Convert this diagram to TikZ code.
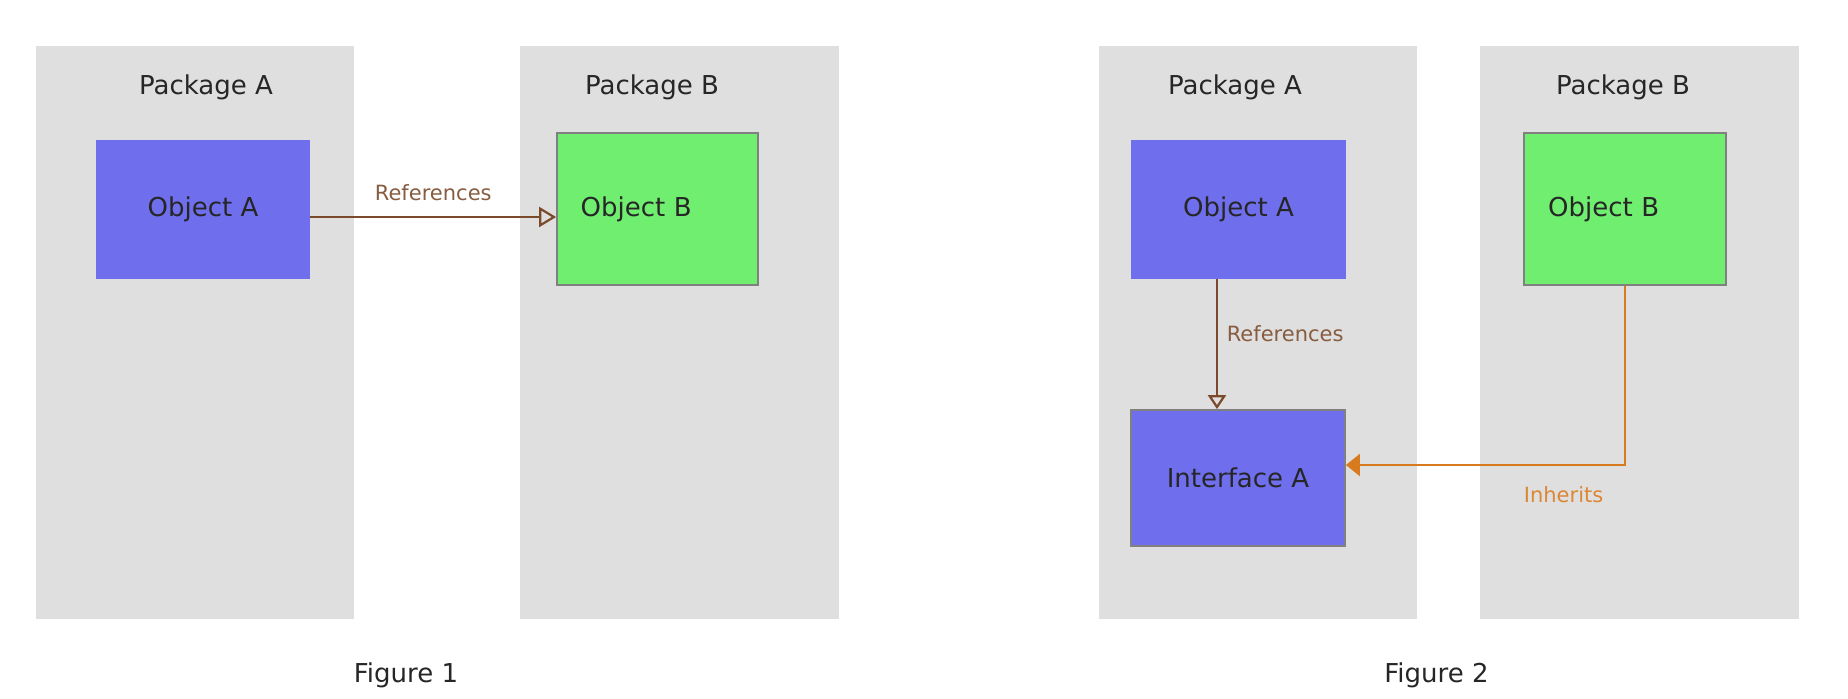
\documentclass[tikz,border=0pt]{standalone}
\usepackage{fontspec}
\setmainfont{DejaVu Sans}
\usepackage{tikz}
\usetikzlibrary{shapes, arrows.meta, positioning}
\usepackage{xcolor}

\definecolor{pkggray}{HTML}{DFDFDF}
\definecolor{objblue}{HTML}{6F6FEE}
\definecolor{objgreen}{HTML}{70EE70}
\definecolor{boxedge}{HTML}{808080}
\definecolor{refbrown}{HTML}{7A4A2A}
\definecolor{inhorange}{HTML}{D87A1E}

\tikzset{
  package/.style={fill=pkggray, minimum width=159pt, minimum height=286.5pt},
  pkglabel/.style={font=\fontsize{13}{15}\selectfont, text=black!85},
  objblue/.style={fill=objblue, font=\fontsize{13}{15}\selectfont, text=black!85},
  objgreen/.style={fill=objgreen, draw=boxedge, line width=0.9pt,
    minimum width=100.5pt, minimum height=76pt, inner xsep=11.8pt,
    text width=76.9pt, align=left, font=\fontsize{13}{15}\selectfont, text=black!85},
  refarrow/.style={draw=refbrown, line width=1.1pt, -{Triangle[open, length=7pt, width=9pt]}},
  inharrow/.style={draw=inhorange, line width=1.1pt, -{Triangle[length=7pt, width=11pt]}},
  reflabel/.style={font=\fontsize{10.5}{12}\selectfont, text=refbrown!90},
  inhlabel/.style={font=\fontsize{10.5}{12}\selectfont, text=inhorange!90}
}

\begin{document}
\begin{tikzpicture}[x=0.5pt, y=-0.5pt]
\useasboundingbox (0,0) rectangle (1848,698);

% Figure 1
\node[package] (pkgA1) at (194.6,332.5) {};
\node[package, minimum width=159.5pt] (pkgB1) at (679,332.5) {};
\node[pkglabel] (lblA1) at (206,87) {Package A};
\node[pkglabel] (lblB1) at (652,87) {Package B};

\node[objblue,
    minimum width=107pt,
    minimum height=69.5pt] (objA1) at (203,209.5) {Object A};

\node[objgreen] (objB1) at (657.5,209) {Object B};

\node[pkglabel] (fig1) at (406,675) {Figure 1};

% Figure 2
\node[package] (pkgA2) at (1258,332.5) {};
\node[package, minimum width=159.5pt] (pkgB2) at (1639.5,332.5) {};
\node[pkglabel] (lblA2) at (1235,87) {Package A};
\node[pkglabel] (lblB2) at (1623,87) {Package B};

\node[objblue,
    minimum width=107.5pt,
    minimum height=69.5pt] (objA2) at (1238.5,209.5) {Object A};

\node[objgreen, minimum width=101pt] (objB2) at (1625,209) {Object B};

\node[objblue, draw=boxedge, line width=0.9pt,
    minimum width=107pt,
    minimum height=68pt] (ifaceA) at (1238,478) {Interface A};

\node[pkglabel] (fig2) at (1436.5,675) {Figure 2};

% Arrows
\coordinate (refA) at ([yshift=-3.75pt]objA1.east);
\draw[refarrow, -{Triangle[open, length=8.5pt, width=10pt]}] (refA) -- (refA -| objB1.west)
    node[midway, above=4pt, reflabel]{References};

\coordinate (refB) at ([xshift=-10.75pt]objA2.south);
\draw[refarrow] (refB) -- (refB |- ifaceA.north)
    node[pos=0.42, right=1pt, reflabel]{References};

\coordinate (inhA) at ([yshift=6.5pt]ifaceA.east);
\draw[inharrow] (objB2.south) |- (inhA)
    node[pos=0.61, below=7pt, inhlabel]{Inherits};

\end{tikzpicture}
\end{document}
